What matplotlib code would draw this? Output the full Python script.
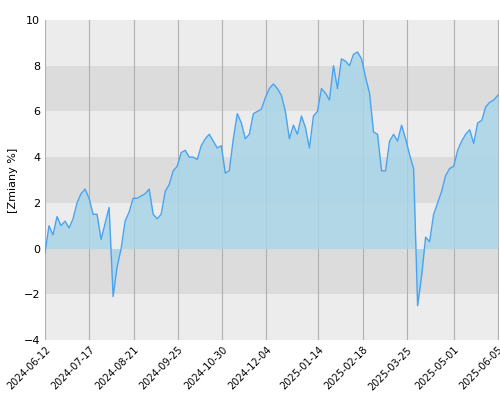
import matplotlib
matplotlib.use("Agg")
import matplotlib.pyplot as plt
import pandas as pd

values = [-0.2,1.0,0.6,1.4,1.0,1.2,0.9,1.3,2.0,2.4,2.6,2.2,1.5,1.5,0.4,1.1,1.8,-2.1,-0.8,0.0,
          1.2,1.6,2.2,2.2,2.3,2.4,2.6,1.5,1.3,1.5,2.5,2.8,3.4,3.6,4.2,4.3,4.0,4.0,3.9,4.5,
          4.8,5.0,4.7,4.4,4.5,3.3,3.4,4.8,5.9,5.5,4.8,5.0,5.9,6.0,6.1,6.6,7.0,7.2,7.0,6.7,
          6.0,4.8,5.4,5.0,5.8,5.3,4.4,5.8,6.0,7.0,6.8,6.5,8.0,7.0,8.3,8.2,8.0,8.5,8.6,8.3,
          7.5,6.8,5.1,5.0,3.4,3.4,4.7,5.0,4.7,5.4,4.8,4.1,3.5,-2.5,-1.2,0.5,0.3,1.5,2.0,2.5,
          3.2,3.5,3.6,4.3,4.7,5.0,5.2,4.6,5.5,5.6,6.2,6.4,6.5,6.7]
start_date = "2024-06-12"
tick_labels = ["2024-06-12","2024-07-17","2024-08-21","2024-09-25","2024-10-30","2024-12-04",
               "2025-01-14","2025-02-18","2025-03-25","2025-05-01","2025-06-05"]

dates = pd.date_range(start_date, periods=len(values), freq="76h")
ticks = pd.to_datetime(tick_labels)

fig = plt.figure(figsize=(5, 4), dpi=100)
ax = fig.add_axes([0.09, 0.15, 0.908, 0.80])
for lo in range(-4, 10, 2):
    ax.axhspan(lo, lo + 2, color="#dcdcdc" if (lo // 2) % 2 != 0 else "#ececec", zorder=0, lw=0)
for t in ticks:
    ax.axvline(t, color="#b0b0b0", lw=0.8, zorder=1)
ax.fill_between(dates, values, 0, color="#a8d5e8", alpha=0.85, zorder=2, lw=0)
ax.plot(dates, values, color="#4aa3f0", lw=1, zorder=3)
ax.set_ylim(-4, 10)
ax.set_xlim(dates[0], dates[-1] + pd.Timedelta(days=1))
ax.set_yticks(range(-4, 11, 2))
ax.set_xticks(ticks)
ax.set_xticklabels(tick_labels, rotation=45, ha="right", rotation_mode="anchor", fontsize=7)
ax.tick_params(axis="y", labelsize=8, length=0)
ax.tick_params(axis="x", length=0)
ax.set_ylabel("[Zmiany %]", fontsize=8)
for s in ax.spines.values():
    s.set_visible(False)
fig.savefig("out.png")
